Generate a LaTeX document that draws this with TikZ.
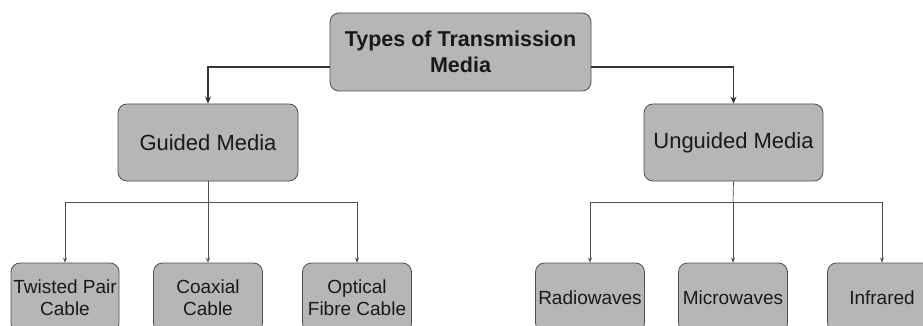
\documentclass[tikz,border=0pt]{standalone}
\usepackage{fontspec}
\setmainfont{Liberation Sans}
\usepackage{tikz}
\usetikzlibrary{
    positioning,
    arrows.meta
}
\definecolor{boxfill}{HTML}{B6B6B6}
\definecolor{boxline}{HTML}{505050}
\definecolor{wire}{HTML}{505050}
\tikzset{
    >=Stealth,
    mediabox/.style={
        draw=boxline,
        fill=boxfill,
        rounded corners=9pt,
        line width=0.8pt,
        align=center,
        inner sep=2pt,
        text=black!90
    },
    leafbox/.style={
        mediabox,
        minimum width=109pt,
        minimum height=69pt,
        font=\fontsize{19}{22}\selectfont
    }
}

\begin{document}
\begin{tikzpicture}[
    x=1pt,
    y=-1pt,
    thick link/.style={draw=black!80, line width=1.2pt, -{Stealth[length=7pt,width=6pt]}},
    thin link/.style={draw=wire, line width=0.7pt, -{Stealth[length=5pt,width=4pt]}}
]

    \useasboundingbox (0,0) rectangle (923,326);

    % Raiz
    \node[mediabox, minimum width=261pt, minimum height=78pt,
          font=\bfseries\fontsize{21.5}{26}\selectfont]
          (root) at (460.5,52) {Types of Transmission\\Media};

    % Dos ramas
    \node[mediabox, minimum width=180pt, minimum height=77pt,
          font=\fontsize{22}{26}\selectfont]
          (guided) at (208,142.5) {Guided Media};
    \node[mediabox, minimum width=179pt, minimum height=77pt,
          font=\fontsize{22}{26}\selectfont]
          (unguided) at (733.5,142.5) {Unguided Media};

    % Hojas guiadas
    \node[leafbox, minimum width=108pt] (twisted) at (65,297.5)  {Twisted Pair\\Cable};
    \node[leafbox] (coaxial) at (208,297.5) {Coaxial\\Cable};
    \node[leafbox] (optical) at (357,297.5) {Optical\\Fibre Cable};

    % Hojas no guiadas
    \node[leafbox] (radio) at (590,297.5) {Radiowaves};
    \node[leafbox] (micro) at (733,297.5) {Microwaves};
    \node[leafbox] (infra) at (882,297.5) {Infrared};

    % Puntos de reparto
    \coordinate (gsplit) at (208,202);
    \coordinate (usplit) at (733,202);

    % Conexiones
    \draw[thick link] ([yshift=-15pt]root.west) -| (guided.north);
    \draw[thick link] ([yshift=-15pt]root.east) -| (unguided.north);

    \draw[draw=wire, line width=0.7pt] (guided.south) -- (gsplit);
    \draw[thin link] (gsplit) -| (twisted.north);
    \draw[thin link] (gsplit) -- (coaxial.north);
    \draw[thin link] (gsplit) -| (optical.north);

    \draw[draw=wire, line width=0.7pt] (unguided.south) -- (usplit);
    \draw[thin link] (usplit) -| (radio.north);
    \draw[thin link] (usplit) -- (micro.north);
    \draw[thin link] (usplit) -| (infra.north);

\end{tikzpicture}
\end{document}
